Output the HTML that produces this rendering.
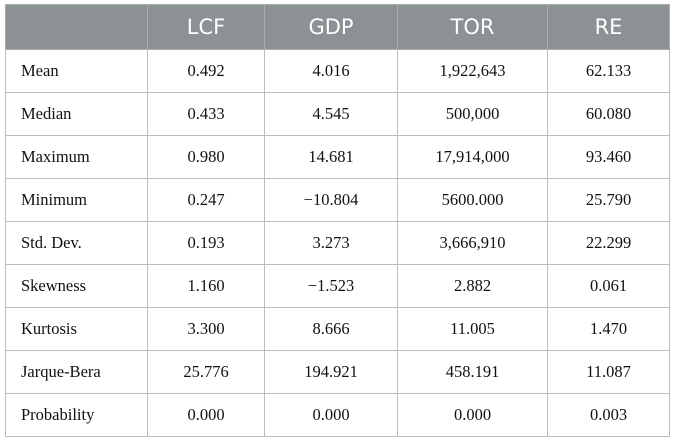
<!DOCTYPE html>
<html><head><meta charset="utf-8"><style>
body{margin:0;width:674px;height:442px;background:#fff;overflow:hidden}
table{position:absolute;left:5px;top:4px;border-collapse:collapse;table-layout:fixed;width:664px}
td,th{border:1.5px solid #bdbdbd;padding:0;text-align:center}
th{background:#8c9193;color:#fff;font:400 21px "DejaVu Sans","Liberation Sans",sans-serif;height:44px;border-color:#a9adaf}
td{font:16.5px "Liberation Serif",serif;color:#111;height:42px}
td:first-child{text-align:left;padding-left:15px}
</style></head><body>
<table>
<colgroup><col style="width:142px"><col style="width:117px"><col style="width:133px"><col style="width:150px"><col style="width:122px"></colgroup>
<tr><th></th><th>LCF</th><th>GDP</th><th>TOR</th><th>RE</th></tr>
<tr><td>Mean</td><td>0.492</td><td>4.016</td><td>1,922,643</td><td>62.133</td></tr>
<tr><td>Median</td><td>0.433</td><td>4.545</td><td>500,000</td><td>60.080</td></tr>
<tr><td>Maximum</td><td>0.980</td><td>14.681</td><td>17,914,000</td><td>93.460</td></tr>
<tr><td>Minimum</td><td>0.247</td><td>−10.804</td><td>5600.000</td><td>25.790</td></tr>
<tr><td>Std. Dev.</td><td>0.193</td><td>3.273</td><td>3,666,910</td><td>22.299</td></tr>
<tr><td>Skewness</td><td>1.160</td><td>−1.523</td><td>2.882</td><td>0.061</td></tr>
<tr><td>Kurtosis</td><td>3.300</td><td>8.666</td><td>11.005</td><td>1.470</td></tr>
<tr><td>Jarque-Bera</td><td>25.776</td><td>194.921</td><td>458.191</td><td>11.087</td></tr>
<tr><td>Probability</td><td>0.000</td><td>0.000</td><td>0.000</td><td>0.003</td></tr>
</table>
</body></html>
